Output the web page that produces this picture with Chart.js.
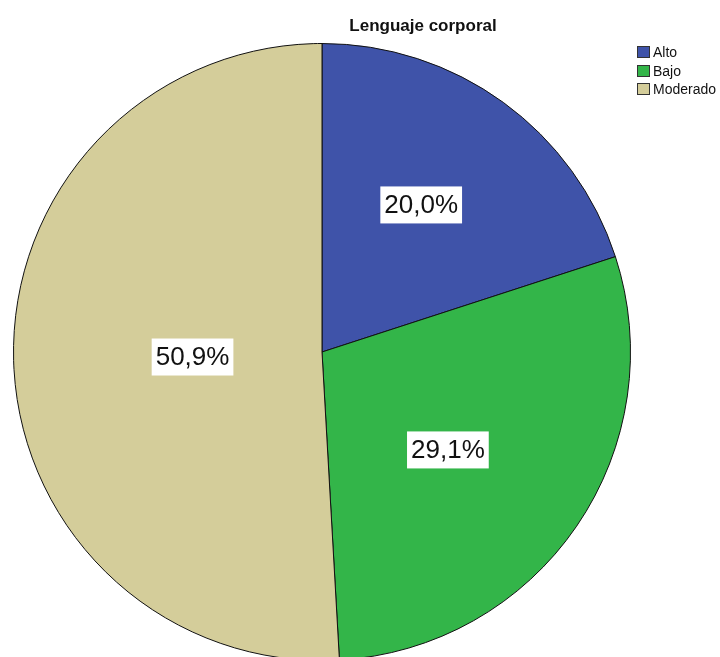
<!DOCTYPE html>
<html>
<head>
<meta charset="utf-8">
<script src="https://cdn.jsdelivr.net/npm/chart.js@4.4.1/dist/chart.umd.min.js"></script>
<style>
    html, body { margin: 0; padding: 0; background: #fff; overflow: hidden; }
    #wrap { width: 720px; height: 700px; position: relative; }
</style>
</head>
<body>
<div id="wrap"><canvas id="pie-chart" width="720" height="700"></canvas></div>
<script>
const title = "Lenguaje corporal";
const categories = ["Alto", "Bajo", "Moderado"];
const percents = [20.0, 29.1, 50.9];
const colors = ["#3f53a9", "#33b549", "#d4cd9a"];

// where each % label sits: fraction of radius, and a small angle nudge in degrees
const labelRadius = [0.575, 0.517, 0.42];
const labelNudge = [-2, 3.5, -0.6];

const spssDecor = {
    id: "spssDecor",
    afterDraw(chart) {
        const ctx = chart.ctx;
        ctx.save();

        // title
        ctx.fillStyle = "#111";
        ctx.font = "bold 17px Arial, 'Liberation Sans', sans-serif";
        ctx.textAlign = "center";
        ctx.textBaseline = "middle";
        ctx.fillText(title, 423, 26);

        // legend
        ctx.font = "14px Arial, 'Liberation Sans', sans-serif";
        ctx.textAlign = "left";
        chart.data.labels.forEach((lab, i) => {
            const y = Math.round(46 + i * 18.5);
            ctx.fillStyle = chart.data.datasets[0].backgroundColor[i];
            ctx.fillRect(637, y, 13, 12);
            ctx.strokeStyle = "#333";
            ctx.lineWidth = 1;
            ctx.strokeRect(637.5, y + 0.5, 12, 11);
            ctx.fillStyle = "#111";
            ctx.fillText(lab, 653, y + 7);
        });

        // percentage labels in white boxes
        const meta = chart.getDatasetMeta(0);
        ctx.font = "26px Arial, 'Liberation Sans', sans-serif";
        ctx.textAlign = "center";
        meta.data.forEach((arc, i) => {
            const p = arc.getProps(["x", "y", "startAngle", "endAngle", "outerRadius"]);
            const mid = (p.startAngle + p.endAngle) / 2 + labelNudge[i] * Math.PI / 180;
            const r = p.outerRadius * labelRadius[i];
            const cx = p.x + Math.cos(mid) * r;
            const cy = p.y + Math.sin(mid) * r;
            const txt = percents[i].toFixed(1).replace(".", ",") + "%";
            const w = ctx.measureText(txt).width + 8;
            const h = 37;
            ctx.fillStyle = "#fff";
            ctx.fillRect(cx - w / 2, cy - h / 2, w, h);
            ctx.fillStyle = "#111";
            ctx.fillText(txt, cx, cy + 1);
        });

        ctx.restore();
    }
};

new Chart(document.getElementById("pie-chart").getContext("2d"), {
    type: "pie",
    data: {
        labels: categories,
        datasets: [{
            data: percents,
            backgroundColor: colors,
            borderColor: "#111",
            borderWidth: 1
        }]
    },
    options: {
        responsive: false,
        animation: false,
        layout: { padding: { left: 13, right: 89, top: 43, bottom: 39 } },
        plugins: {
            legend: { display: false },
            tooltip: { enabled: false }
        }
    },
    plugins: [spssDecor]
});
</script>
</body>
</html>
